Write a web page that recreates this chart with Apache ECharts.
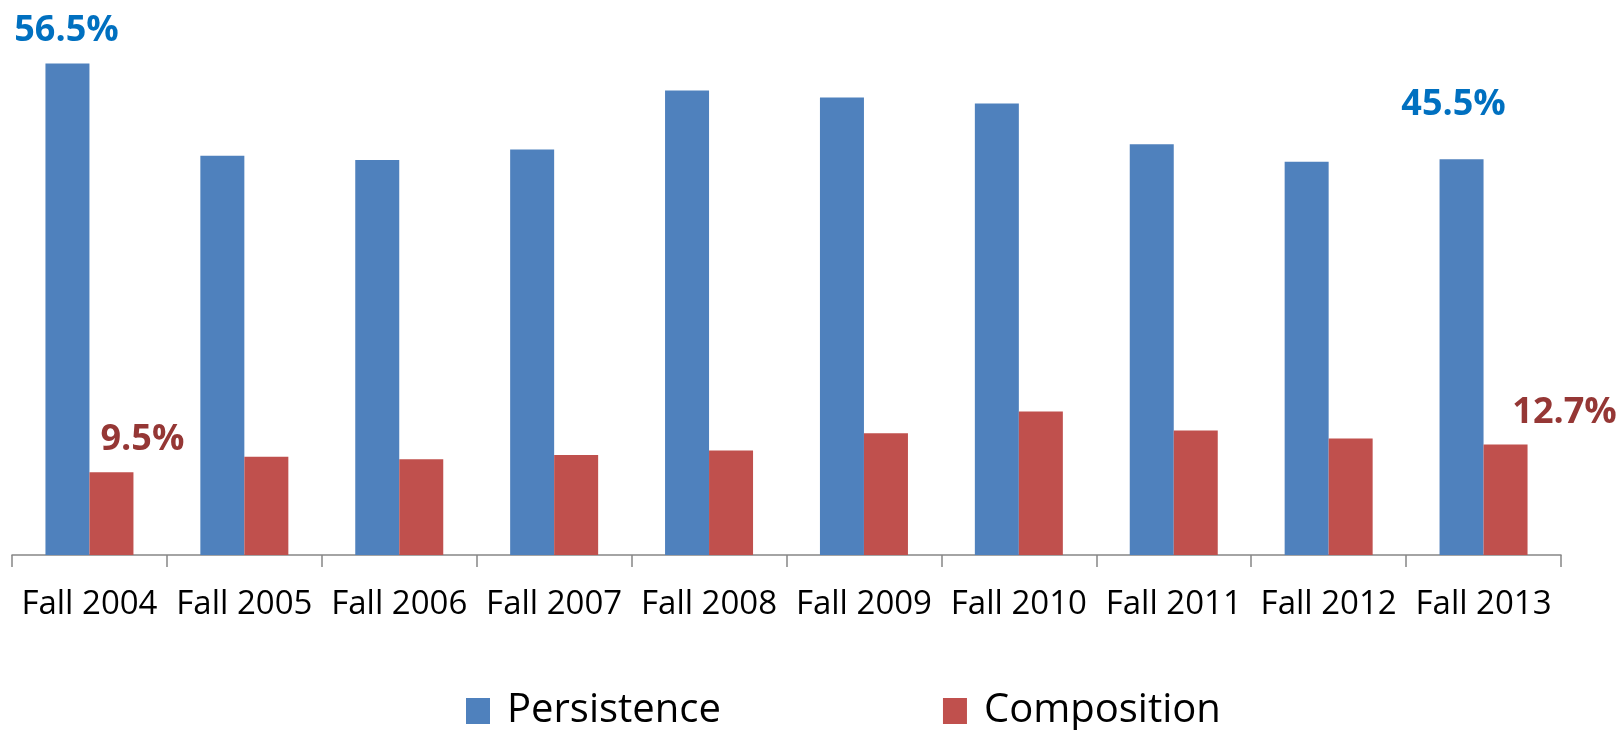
<!DOCTYPE html>
<html lang="en">

<head>
  <meta charset="UTF-8">
  <title>Persistence and Composition</title>
  <style>
    html, body { margin: 0; padding: 0; background: #ffffff; }
    #chart { width: 1619px; height: 730px; }
  </style>
  <script src="https://cdn.jsdelivr.net/npm/echarts@6/dist/echarts.min.js"></script>
</head>

<body>
  <div id="chart"></div>
  <script>
    // categories and values (percent)
    var terms = ['Fall 2004', 'Fall 2005', 'Fall 2006', 'Fall 2007', 'Fall 2008',
      'Fall 2009', 'Fall 2010', 'Fall 2011', 'Fall 2012', 'Fall 2013']
    var persistence = [56.5, 45.9, 45.4, 46.6, 53.4, 52.6, 51.9, 47.2, 45.2, 45.5]
    var composition = [9.5, 11.3, 11.0, 11.5, 12.0, 14.0, 16.5, 14.3, 13.4, 12.7]

    // only the first and the last bar of each series carry a label
    function withLabels(values, color, offsets) {
      return values.map(function (v, i) {
        var off = offsets[i]
        if (!off) return v
        return {
          value: v,
          label: {
            show: true,
            position: 'top',
            distance: 0,
            offset: off,
            formatter: '{c}%',
            color: color,
            fontFamily: 'Open Sans',
            fontWeight: 'bold',
            fontSize: 36
          }
        }
      })
    }

    var chart = echarts.init(document.getElementById('chart'))

    var option = {
      animation: false,
      grid: {
        left: 12,
        right: 58,
        top: 33,
        bottom: 175
      },
      legend: {
        left: 461,
        top: 686,
        itemWidth: 24,
        itemHeight: 26,
        itemGap: 222,
        icon: 'rect',
        textStyle: {
          fontFamily: 'Open Sans',
          fontSize: 40,
          color: '#000000',
          padding: [0, 0, 0, 12]
        },
        data: ['Persistence', 'Composition']
      },
      xAxis: {
        type: 'category',
        data: terms,
        axisLine: { lineStyle: { color: '#868686', width: 1.5 } },
        axisTick: { show: true, length: 12, lineStyle: { color: '#868686', width: 1.5 } },
        axisLabel: {
          interval: 0,
          margin: 33,
          fontFamily: 'Open Sans',
          fontSize: 33,
          color: '#000000'
        }
      },
      yAxis: {
        type: 'value',
        min: 0,
        max: 60,
        show: false,
        splitLine: { show: false }
      },
      series: [{
        name: 'Persistence',
        type: 'bar',
        barWidth: 44,
        barGap: 0,
        itemStyle: { color: '#4F81BD' },
        data: withLabels(persistence, '#0070C0', { 0: [-1, -15], 9: [-8, -36] })
      }, {
        name: 'Composition',
        type: 'bar',
        barWidth: 44,
        itemStyle: { color: '#C0504D' },
        data: withLabels(composition, '#953735', { 0: [31, -15], 9: [59, -14] })
      }]
    }

    chart.setOption(option)
  </script>
</body>

</html>
